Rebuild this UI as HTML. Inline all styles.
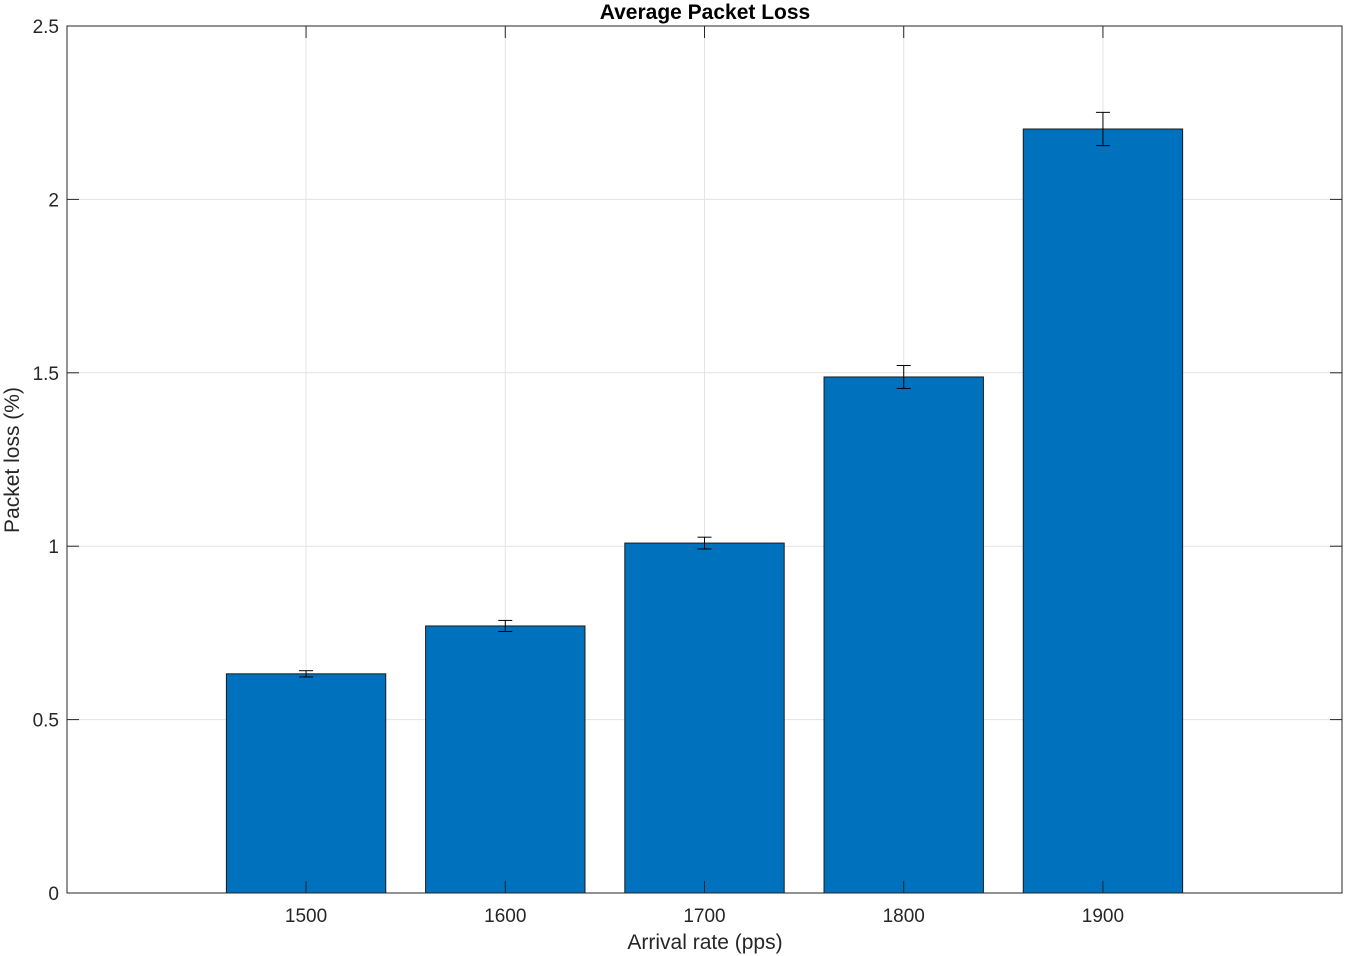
<!DOCTYPE html>
<html><head><meta charset="utf-8"><style>
html,body{margin:0;padding:0;background:#fff;}
svg{display:block;font-family:"Liberation Sans",Arial,sans-serif;}
</style></head><body>
<svg id="chart" width="1346" height="956" xmlns="http://www.w3.org/2000/svg"></svg>
<script>
const categories = [1500, 1600, 1700, 1800, 1900];
const values = [0.632, 0.770, 1.009, 1.488, 2.203];
const errors = [0.009, 0.016, 0.017, 0.033, 0.048];
const yTicks = [0, 0.5, 1, 1.5, 2, 2.5];
const yTickLabels = ["0", "0.5", "1", "1.5", "2", "2.5"];
const xTickLabels = ["1500", "1600", "1700", "1800", "1900"];

const L = 67, R = 1342, T = 26, B = 893;
const xMin = 1380, xMax = 2020, yMin = 0, yMax = 2.5;
const barW = 80;
const xs = v => L + (v - xMin) / (xMax - xMin) * (R - L);
const ys = v => B - (v - yMin) / (yMax - yMin) * (B - T);
const svg = document.getElementById('chart');
const NS = 'http://www.w3.org/2000/svg';
function mk(tag, attrs, parent) {
  const e = document.createElementNS(NS, tag);
  for (const k in attrs) e.setAttribute(k, attrs[k]);
  (parent || svg).appendChild(e);
  return e;
}
yTicks.forEach(t => {
  const g = mk('line', {x1: L, x2: R, y1: ys(t), y2: ys(t), stroke: '#e3e3e3', 'stroke-width': 1});
  
  
});
categories.forEach(c => {
  const g = mk('line', {x1: xs(c), x2: xs(c), y1: T, y2: B, stroke: '#e3e3e3', 'stroke-width': 1});
  
  
});
categories.forEach((c, i) => {
  const x0 = xs(c - barW / 2), x1 = xs(c + barW / 2);
  const b = mk('rect', {x: x0, y: ys(values[i]), width: x1 - x0, height: ys(0) - ys(values[i]), fill: '#0072bd', stroke: '#1a1a1a', 'stroke-width': 1});
  
  
});
categories.forEach((c, i) => {
  const g = mk('g', {stroke: '#000', 'stroke-width': 1});
  
  
  const x = xs(c), yt = ys(values[i] + errors[i]), yb = ys(values[i] - errors[i]);
  mk('line', {x1: x, x2: x, y1: yt, y2: yb}, g);
  mk('line', {x1: x - 7, x2: x + 7, y1: yt, y2: yt}, g);
  mk('line', {x1: x - 7, x2: x + 7, y1: yb, y2: yb}, g);
});
const box = mk('rect', {x: L, y: T, width: R - L, height: B - T, fill: 'none', stroke: '#262626', 'stroke-width': 1});


yTicks.forEach((t, i) => {
  const y = ys(t);
  mk('line', {x1: L, x2: L + 12, y1: y, y2: y, stroke: '#262626'});
  mk('line', {x1: R - 12, x2: R, y1: y, y2: y, stroke: '#262626'});
  const tx = mk('text', {x: L - 8, y: y + 7, 'text-anchor': 'end', 'font-size': 19, fill: '#262626'});
  
  
  tx.textContent = yTickLabels[i];
});
categories.forEach((c, i) => {
  const x = xs(c);
  mk('line', {x1: x, x2: x, y1: B, y2: B - 12, stroke: '#262626'});
  mk('line', {x1: x, x2: x, y1: T, y2: T + 12, stroke: '#262626'});
  const tx = mk('text', {x: x, y: B + 29, 'text-anchor': 'middle', 'font-size': 19, fill: '#262626'});
  
  
  tx.textContent = xTickLabels[i];
});
</script>
<svg style="position:absolute;left:0;top:0" width="1346" height="956" xmlns="http://www.w3.org/2000/svg" font-family="Liberation Sans, Arial, sans-serif">
  <text x="705" y="19" text-anchor="middle" font-size="21" font-weight="bold" fill="#000">Average Packet Loss</text>
  <text x="705" y="949" text-anchor="middle" font-size="21" fill="#262626">Arrival rate (pps)</text>
  <text transform="translate(19,460) rotate(-90)" text-anchor="middle" font-size="21" fill="#262626">Packet loss (%)</text>
</svg>
</body></html>
